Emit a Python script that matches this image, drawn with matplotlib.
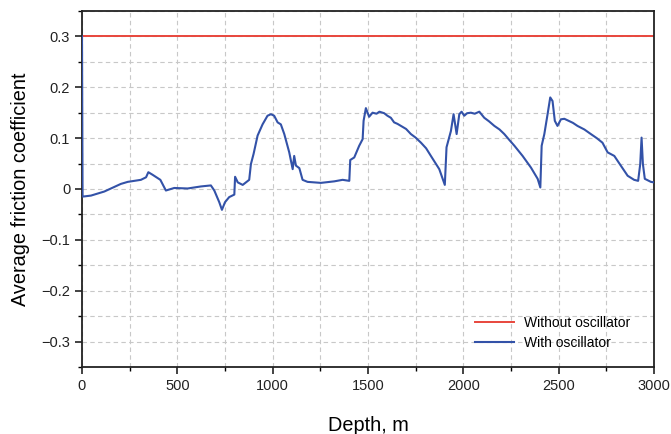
import matplotlib
matplotlib.use("Agg")
import matplotlib.pyplot as plt
from matplotlib.ticker import MultipleLocator

plt.rcParams['font.family'] = ['Liberation Sans', 'DejaVu Sans']

depth_without = [0, 3000]
friction_without = [0.3, 0.3]

depth_with = [0, 3, 47, 117, 204, 240, 309, 336, 348, 370, 411, 440, 484, 554, 624, 676,
              694, 720, 734, 750, 772, 799, 803, 817, 843, 877, 886, 900, 921, 947, 973,
              991, 1008, 1026, 1043, 1061, 1087, 1105, 1113, 1122, 1140, 1157, 1183, 1253,
              1323, 1367, 1402, 1407, 1428, 1454, 1472, 1477, 1489, 1506, 1524, 1545, 1560,
              1585, 1602, 1620, 1637, 1655, 1673, 1700, 1725, 1750, 1778, 1805, 1830, 1874,
              1903, 1912, 1935, 1949, 1965, 1979, 1991, 2005, 2020, 2040, 2060, 2084, 2110,
              2135, 2163, 2190, 2215, 2240, 2268, 2311, 2355, 2390, 2404, 2411, 2425, 2442,
              2456, 2468, 2480, 2494, 2512, 2530, 2547, 2575, 2599, 2635, 2669, 2700, 2730,
              2757, 2792, 2826, 2862, 2896, 2917, 2928, 2935, 2942, 2952, 2984, 3000]
friction_with = [0.3, -0.015, -0.013, -0.005, 0.01, 0.014, 0.018, 0.023, 0.033, 0.028,
                 0.018, -0.003, 0.002, 0.001, 0.005, 0.007, -0.003, -0.026, -0.041, -0.026,
                 -0.016, -0.011, 0.024, 0.013, 0.008, 0.018, 0.049, 0.069, 0.105, 0.127,
                 0.144, 0.147, 0.144, 0.131, 0.127, 0.108, 0.072, 0.039, 0.065, 0.046, 0.041,
                 0.018, 0.014, 0.012, 0.015, 0.018, 0.016, 0.057, 0.062, 0.085, 0.098, 0.134,
                 0.159, 0.142, 0.150, 0.148, 0.152, 0.149, 0.144, 0.140, 0.131, 0.128, 0.124,
                 0.118, 0.108, 0.101, 0.091, 0.080, 0.065, 0.039, 0.008, 0.082, 0.114, 0.147,
                 0.108, 0.147, 0.152, 0.144, 0.149, 0.150, 0.148, 0.152, 0.140, 0.133, 0.124,
                 0.117, 0.108, 0.097, 0.085, 0.065, 0.042, 0.020, 0.003, 0.085, 0.108, 0.147,
                 0.180, 0.173, 0.134, 0.124, 0.137, 0.138, 0.135, 0.130, 0.124, 0.117, 0.108,
                 0.100, 0.091, 0.072, 0.065, 0.046, 0.026, 0.018, 0.016, 0.049, 0.101, 0.049,
                 0.020, 0.014, 0.013]

xticks = [0, 500, 1000, 1500, 2000, 2500, 3000]
yticks = [-0.3, -0.2, -0.1, 0, 0.1, 0.2, 0.3]
ytick_labels = ['\u22120.3', '\u22120.2', '\u22120.1', '0', '0.1', '0.2', '0.3']

fig = plt.figure(figsize=(6.71, 4.34), dpi=100)
ax = fig.add_axes([0.1222, 0.1544, 0.8524, 0.8203])

ax.plot(depth_without, friction_without, color='#e8463c', lw=1.4, label='Without oscillator')
ax.plot(depth_with, friction_with, color='#3352a8', lw=1.5, label='With oscillator', zorder=3)

ax.set_xlim(0, 3000)
ax.set_ylim(-0.35, 0.35)
ax.set_xticks(xticks)
ax.set_yticks(yticks)
ax.set_yticklabels(ytick_labels)
ax.xaxis.set_minor_locator(MultipleLocator(250))
ax.yaxis.set_minor_locator(MultipleLocator(0.05))
ax.grid(which='both', color='#c8c8c8', linestyle=(0, (4, 3)), linewidth=0.8)
ax.set_axisbelow(True)
ax.tick_params(which='major', direction='out', length=5, width=1.2, labelsize=10.5, colors='#222222')
ax.tick_params(which='minor', direction='out', length=3, width=1.0)
for s in ax.spines.values():
    s.set_linewidth(1.3)
    s.set_color('#222222')

ax.set_xlabel('Depth, m', fontsize=14.3, labelpad=17)
ax.set_ylabel('Average friction coefficient', fontsize=14.3, labelpad=8)

ax.legend(loc='lower right', bbox_to_anchor=(0.98, 0.012), frameon=False, fontsize=10,
          handlelength=2.8, handletextpad=0.7, labelspacing=0.45)

fig.savefig('out.png', dpi=100)
